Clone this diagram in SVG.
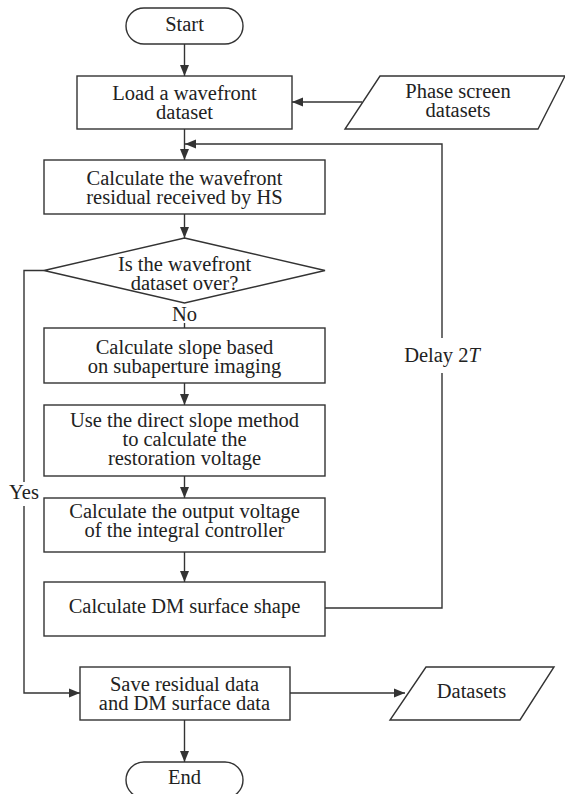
<svg xmlns="http://www.w3.org/2000/svg" width="565" height="794" viewBox="0 0 565 794">
<style>
.sh{fill:#ffffff;stroke:#333333;stroke-width:1.4}
.t{font-family:'Liberation Serif','Tinos','Times New Roman','DejaVu Serif','Noto Serif',serif;font-size:20.5px;fill:#222222;text-anchor:middle}
.c{fill:none;stroke:#333333;stroke-width:1.4}
</style>
<defs>
<marker id="ah" markerUnits="userSpaceOnUse" markerWidth="11" markerHeight="10" refX="11" refY="5" orient="auto">
<path d="M0,0.5 L11,5 L0,9.5 z" fill="#333333"/>
</marker>
</defs>
<rect width="565" height="794" fill="#ffffff"/>
<g id="connectors">
<path class="c" d="M184.5,44 V76" marker-end="url(#ah)"/>
<path class="c" d="M362,102 H292" marker-end="url(#ah)"/>
<path class="c" d="M184.5,129 V160" marker-end="url(#ah)"/>
<path class="c" d="M325,608 H442 V373 M442,338 V144 H185" marker-end="url(#ah)"/>
<path class="c" d="M184.5,214 V238" marker-end="url(#ah)"/>
<path class="c" d="M184.5,323 V328"/>
<path class="c" d="M44,270.5 H24 V482 M24,506 V693 H80" marker-end="url(#ah)"/>
<path class="c" d="M184.5,383 V405" marker-end="url(#ah)"/>
<path class="c" d="M184.5,476 V498" marker-end="url(#ah)"/>
<path class="c" d="M184.5,552 V582" marker-end="url(#ah)"/>
<path class="c" d="M290,693 H405" marker-end="url(#ah)"/>
<path class="c" d="M184.5,720 V762" marker-end="url(#ah)"/>
<text class="t" x="184.5" y="321">No</text>
<text class="t" x="24" y="499">Yes</text>
<text class="t" x="442" y="362">Delay 2<tspan font-style="italic">T</tspan></text>
</g>
<g id="start">
<rect class="sh" x="126" y="8" width="117" height="36" rx="18" ry="18"/>
<text class="t" x="184.5" y="31">Start</text>
</g>
<g id="load">
<rect class="sh" x="77" y="76" width="215" height="53"/>
<text class="t" x="184.5" y="100">Load a wavefront</text>
<text class="t" x="184.5" y="118.5">dataset</text>
</g>
<g id="phase">
<polygon class="sh" points="380,76 565,76 538,129 345,129"/>
<text class="t" x="458" y="98">Phase screen</text>
<text class="t" x="458" y="116.5">datasets</text>
</g>
<g id="calc-residual">
<rect class="sh" x="44" y="160" width="281" height="54"/>
<text class="t" x="184.5" y="185">Calculate the wavefront</text>
<text class="t" x="184.5" y="203.5">residual received by HS</text>
</g>
<g id="decision">
<polygon class="sh" points="184.5,238 325,270.5 184.5,303 44,270.5"/>
<text class="t" x="184.5" y="271">Is the wavefront</text>
<text class="t" x="184.5" y="289.5">dataset over?</text>
</g>
<g id="slope">
<rect class="sh" x="44" y="328" width="281" height="55"/>
<text class="t" x="184.5" y="354">Calculate slope based</text>
<text class="t" x="184.5" y="373">on subaperture imaging</text>
</g>
<g id="direct-slope">
<rect class="sh" x="44" y="405" width="281" height="71"/>
<text class="t" x="184.5" y="427">Use the direct slope method</text>
<text class="t" x="184.5" y="446">to calculate the</text>
<text class="t" x="184.5" y="465">restoration voltage</text>
</g>
<g id="output-voltage">
<rect class="sh" x="44" y="498" width="281" height="54"/>
<text class="t" x="184.5" y="518">Calculate the output voltage</text>
<text class="t" x="184.5" y="537">of the integral controller</text>
</g>
<g id="dm-shape">
<rect class="sh" x="44" y="582" width="281" height="54"/>
<text class="t" x="184.5" y="613">Calculate DM surface shape</text>
</g>
<g id="save">
<rect class="sh" x="80" y="667" width="210" height="53"/>
<text class="t" x="184.5" y="691">Save residual data</text>
<text class="t" x="184.5" y="709.5">and DM surface data</text>
</g>
<g id="datasets">
<polygon class="sh" points="426,667 554,667 520,720 390,720"/>
<text class="t" x="471.5" y="698">Datasets</text>
</g>
<g id="end">
<rect class="sh" x="126" y="762" width="117" height="36" rx="18" ry="18"/>
<text class="t" x="184.5" y="784">End</text>
</g>
</svg>
